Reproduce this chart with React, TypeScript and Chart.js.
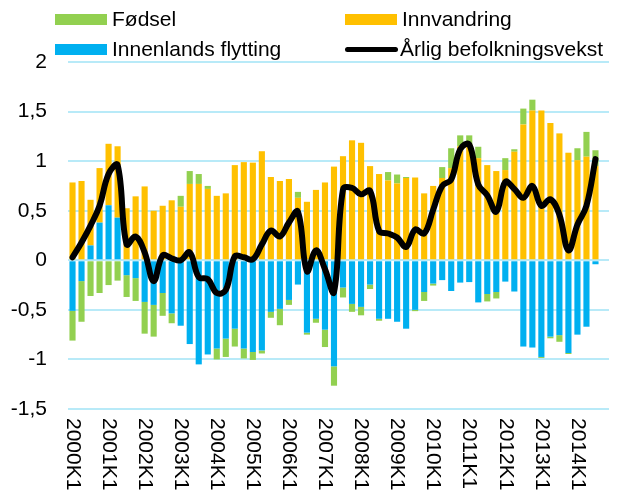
import React, { useEffect, useRef } from "react";
import { Chart, registerables } from "chart.js";

Chart.register(...registerables);

const years = [2000, 2001, 2002, 2003, 2004, 2005, 2006, 2007, 2008, 2009, 2010, 2011, 2012, 2013, 2014];
const quarterLabels: string[] = [];
years.forEach((y) => {
  for (let q = 1; q <= 4; q++) quarterLabels.push(`${y}K${q}`);
});

const yTicks = [-1.5, -1, -0.5, 0, 0.5, 1, 1.5, 2];

// Innenlands flytting (blue)
const innenlands = [
  -0.51, -0.21, 0.15, 0.38, 0.555, 0.43, -0.15, -0.18, -0.42, -0.45, -0.33, -0.535,
  -0.66, -0.845, -1.05, -0.95, -0.89, -0.79, -0.69, -0.89, -0.925, -0.91, -0.52, -0.49,
  -0.40, -0.245, -0.73, -0.59, -0.70, -1.07, -0.275, -0.44, -0.47, -0.245, -0.59, -0.59,
  -0.62, -0.69, -0.50, -0.32, -0.235, -0.20, -0.31, -0.225, -0.22, -0.425, -0.34, -0.32,
  -0.215, -0.315, -0.87, -0.88, -0.975, -0.77, -0.755, -0.935, -0.75, -0.67, -0.04,
];

// Innvandring (orange)
const innvandring = [
  0.785, 0.80, 0.46, 0.55, 0.62, 0.72, 0.525, 0.645, 0.745, 0.50, 0.55, 0.605,
  0.54, 0.77, 0.77, 0.72, 0.65, 0.675, 0.96, 0.99, 0.985, 1.10, 0.84, 0.80,
  0.82, 0.63, 0.59, 0.71, 0.785, 0.945, 1.05, 1.21, 1.185, 0.95, 0.87, 0.805,
  0.775, 0.83, 0.835, 0.675, 0.75, 0.83, 0.93, 1.15, 1.17, 1.03, 0.96, 0.90,
  0.91, 1.095, 1.37, 1.51, 1.51, 1.385, 1.28, 1.085, 1.01, 1.045, 0.95,
];

// Fødsel (green)
const fodsel = [
  -0.30, -0.41, -0.36, -0.33, -0.25, -0.205, -0.22, -0.23, -0.32, -0.32, -0.23, -0.10,
  0.11, 0.13, 0.10, 0.03, -0.11, -0.185, -0.18, -0.10, -0.08, -0.03, -0.06, -0.165,
  -0.05, 0.06, -0.02, -0.04, -0.175, -0.195, -0.10, -0.08, -0.085, -0.045, -0.02, 0.085,
  0.09, 0.01, -0.013, -0.09, -0.02, 0.11, 0.20, 0.11, 0.09, 0.115, -0.075, -0.065,
  0.12, 0.025, 0.16, 0.11, -0.01, -0.017, -0.067, -0.01, 0.12, 0.25, 0.16,
];

// Årlig befolkningsvekst (black line)
const arligVekst = [
  0.03, 0.18, 0.35, 0.55, 0.87, 0.96, 0.16, 0.24, 0.08, -0.21, 0.05, 0.02,
  0.0, 0.08, -0.17, -0.19, -0.33, -0.30, 0.04, 0.03, 0.01, 0.16, 0.30, 0.24,
  0.38, 0.49, -0.11, 0.10, -0.09, -0.32, 0.715, 0.73, 0.665, 0.70, 0.295, 0.27,
  0.23, 0.135, 0.31, 0.27, 0.51, 0.75, 0.815, 1.12, 1.17, 0.765, 0.655, 0.49,
  0.79, 0.72, 0.63, 0.75, 0.55, 0.615, 0.46, 0.10, 0.36, 0.55, 1.02,
];

const GREEN = "#92D050";
const ORANGE = "#FFC000";
const BLUE = "#00B0F0";
const GRID = "#B8EAF8";
const FONT = '"Liberation Sans", Arial, sans-serif';
const FS = 21;

const xLabelPlugin = {
  id: "xLabelsRotated",
  afterDraw(chart: any) {
    const { ctx, chartArea } = chart;
    const x = chart.scales.x;
    ctx.save();
    ctx.font = `${FS}px ${FONT}`;
    ctx.fillStyle = "#000";
    ctx.textAlign = "left";
    ctx.textBaseline = "middle";
    quarterLabels.forEach((lab, i) => {
      if (i % 4 !== 0) return;
      const px = x.getPixelForValue(i);
      ctx.save();
      ctx.translate(px, chartArea.bottom + 9);
      ctx.rotate(Math.PI / 2);
      ctx.fillText(lab, 0, 0);
      ctx.restore();
    });
    ctx.restore();
  },
};

export default function App() {
  const ref = useRef<HTMLCanvasElement>(null);

  useEffect(() => {
    if (!ref.current) return;
    const chart = new Chart(ref.current, {
      type: "bar",
      data: {
        labels: quarterLabels,
        datasets: [
          {
            type: "line",
            label: "Årlig befolkningsvekst",
            data: arligVekst,
            borderColor: "#000",
            backgroundColor: "#000",
            borderWidth: 6,
            pointRadius: 0,
            tension: 0.4,
            borderCapStyle: "round",
            borderJoinStyle: "round",
            order: 0,
            stack: "line",
          } as any,
          {
            label: "Innenlands flytting",
            data: innenlands,
            backgroundColor: BLUE,
            barPercentage: 0.68,
            categoryPercentage: 1,
            order: 1,
          },
          {
            label: "Innvandring",
            data: innvandring,
            backgroundColor: ORANGE,
            barPercentage: 0.68,
            categoryPercentage: 1,
            order: 1,
          },
          {
            label: "Fødsel",
            data: fodsel,
            backgroundColor: GREEN,
            barPercentage: 0.68,
            categoryPercentage: 1,
            order: 1,
          },
        ],
      },
      options: {
        responsive: false,
        animation: false,
        layout: { padding: { top: 62, right: 9, bottom: 86, left: 0 } },
        plugins: {
          legend: { display: false },
          tooltip: { enabled: false },
        },
        scales: {
          x: {
            stacked: true,
            grid: { display: false },
            border: { display: false },
            ticks: { display: false },
            afterFit: (s: any) => {
              s.height = 0;
            },
          },
          y: {
            stacked: true,
            min: -1.5,
            max: 2,
            afterBuildTicks: (s: any) => {
              s.ticks = yTicks.map((v) => ({ value: v }));
            },
            grid: { color: GRID, lineWidth: 2, drawTicks: false, tickLength: 0 },
            border: { display: false },
            ticks: {
              padding: 21,
              color: "#000",
              font: { family: FONT, size: FS },
              callback: (v: any) => String(v).replace(".", ","),
            },
            afterFit: (s: any) => {
              s.width = 68;
            },
          },
        },
      },
      plugins: [xLabelPlugin],
    });
    return () => chart.destroy();
  }, []);

  const textStyle: React.CSSProperties = {
    position: "absolute",
    fontFamily: FONT,
    fontSize: FS,
    color: "#000",
    lineHeight: "21px",
    whiteSpace: "nowrap",
  };

  return (
    <div style={{ position: "absolute", left: 0, top: 0, width: 618, height: 495, background: "#fff" }}>
      <canvas ref={ref} width={618} height={495} style={{ display: "block" }} />
      <div style={{ position: "absolute", left: 55, top: 14, width: 52, height: 11, background: GREEN }} />
      <div style={{ ...textStyle, left: 112, top: 8 }}>Fødsel</div>
      <div style={{ position: "absolute", left: 345, top: 14, width: 52, height: 11, background: ORANGE }} />
      <div style={{ ...textStyle, left: 402, top: 8 }}>Innvandring</div>
      <div style={{ position: "absolute", left: 55, top: 44, width: 52, height: 11, background: BLUE }} />
      <div style={{ ...textStyle, left: 112, top: 38 }}>Innenlands flytting</div>
      <div style={{ position: "absolute", left: 345, top: 47, width: 53, height: 5, borderRadius: 3, background: "#000" }} />
      <div style={{ ...textStyle, left: 400, top: 38 }}>Årlig befolkningsvekst</div>
    </div>
  );
}
